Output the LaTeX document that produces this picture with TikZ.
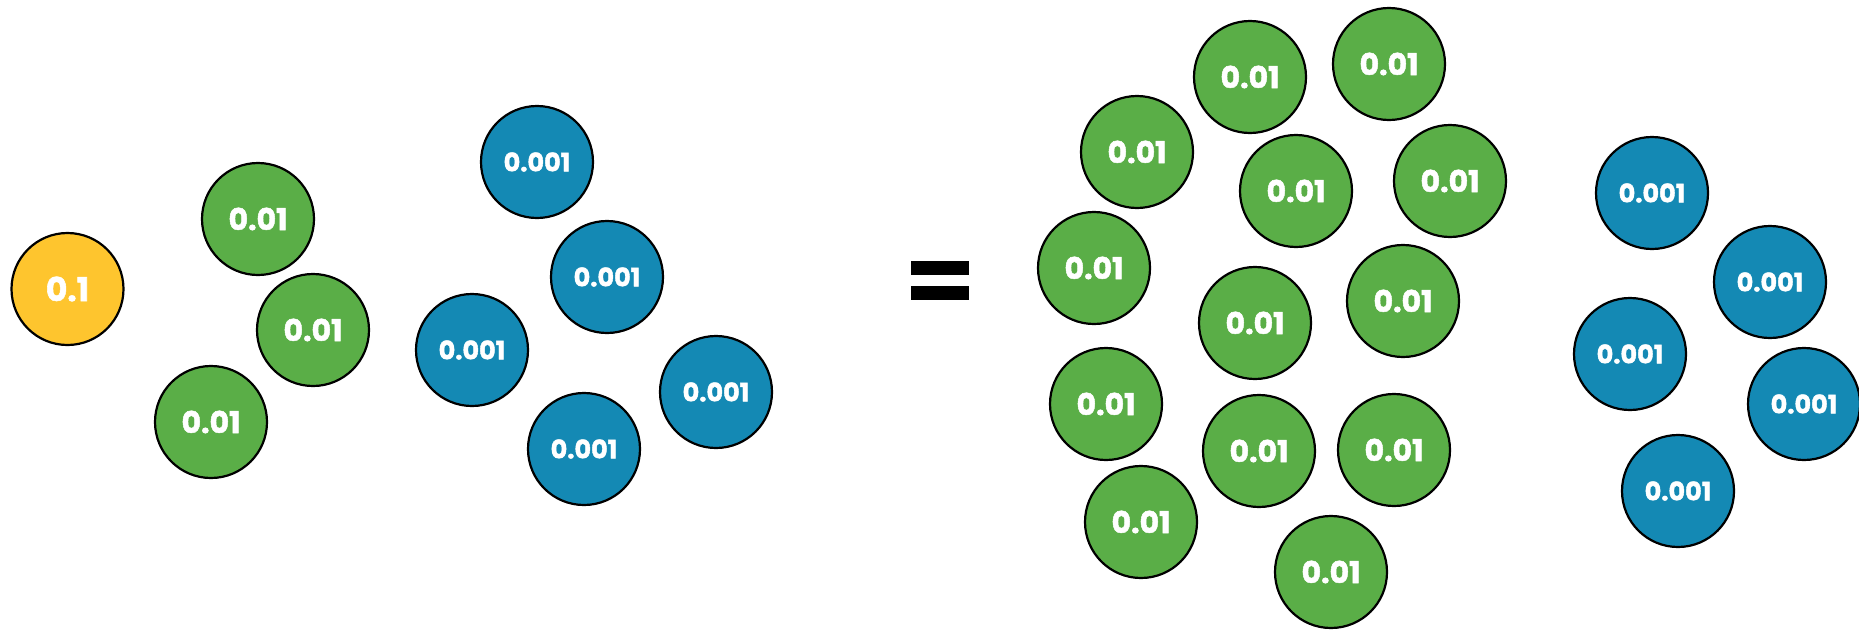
\documentclass[tikz,border=0pt]{standalone}
\usepackage{fontspec}
\newfontfamily\popfont{Poppins}[BoldFeatures={FakeBold=1.6}]
\definecolor{cyel}{HTML}{FEC52E}
\definecolor{cgrn}{HTML}{5AAE47}
\definecolor{cblu}{HTML}{1489B4}
\tikzset{
  ball/.style={circle, draw=black, line width=2.2pt, minimum size=112pt, inner sep=0pt, text=white, font=\popfont\bfseries},
  yball/.style={ball, fill=cyel, font=\popfont\bfseries\fontsize{33}{33}\selectfont},
  gball/.style={ball, fill=cgrn, font=\popfont\bfseries\fontsize{30}{30}\selectfont},
  bball/.style={ball, fill=cblu, font=\popfont\bfseries\fontsize{25.5}{25.5}\selectfont},
}
\begin{document}
\begin{tikzpicture}[x=1pt,y=-1pt]
\useasboundingbox (0,0) rectangle (1859,629);
% left group
\node[yball] (y1) at (67.5,289) {0.1};
\node[gball] (g1) at (258,219) {0.01};
\node[gball] (g2) at (313,330) {0.01};
\node[gball] (g3) at (211,422) {0.01};
\node[bball] (b1) at (537,162) {0.001};
\node[bball] (b2) at (607,277) {0.001};
\node[bball] (b3) at (472,350) {0.001};
\node[bball] (b4) at (584,449) {0.001};
\node[bball] (b5) at (716,392) {0.001};
% equals sign
\fill (911,261) rectangle (969,275);
\fill (911,286) rectangle (969,300);
% right group greens
\node[gball] (r1) at (1250,77) {0.01};
\node[gball] (r2) at (1389,64) {0.01};
\node[gball] (r3) at (1137,152) {0.01};
\node[gball] (r4) at (1296,191) {0.01};
\node[gball] (r5) at (1450,181) {0.01};
\node[gball] (r6) at (1094,268) {0.01};
\node[gball] (r7) at (1403,301) {0.01};
\node[gball] (r8) at (1255,323) {0.01};
\node[gball] (r9) at (1106,404) {0.01};
\node[gball] (r10) at (1259,451) {0.01};
\node[gball] (r11) at (1394,450) {0.01};
\node[gball] (r12) at (1141,522) {0.01};
\node[gball] (r13) at (1331,572) {0.01};
% right group blues
\node[bball] (s1) at (1652,193) {0.001};
\node[bball] (s2) at (1770,282) {0.001};
\node[bball] (s3) at (1630,354) {0.001};
\node[bball] (s4) at (1804,404) {0.001};
\node[bball] (s5) at (1678,491) {0.001};
\end{tikzpicture}
\end{document}
